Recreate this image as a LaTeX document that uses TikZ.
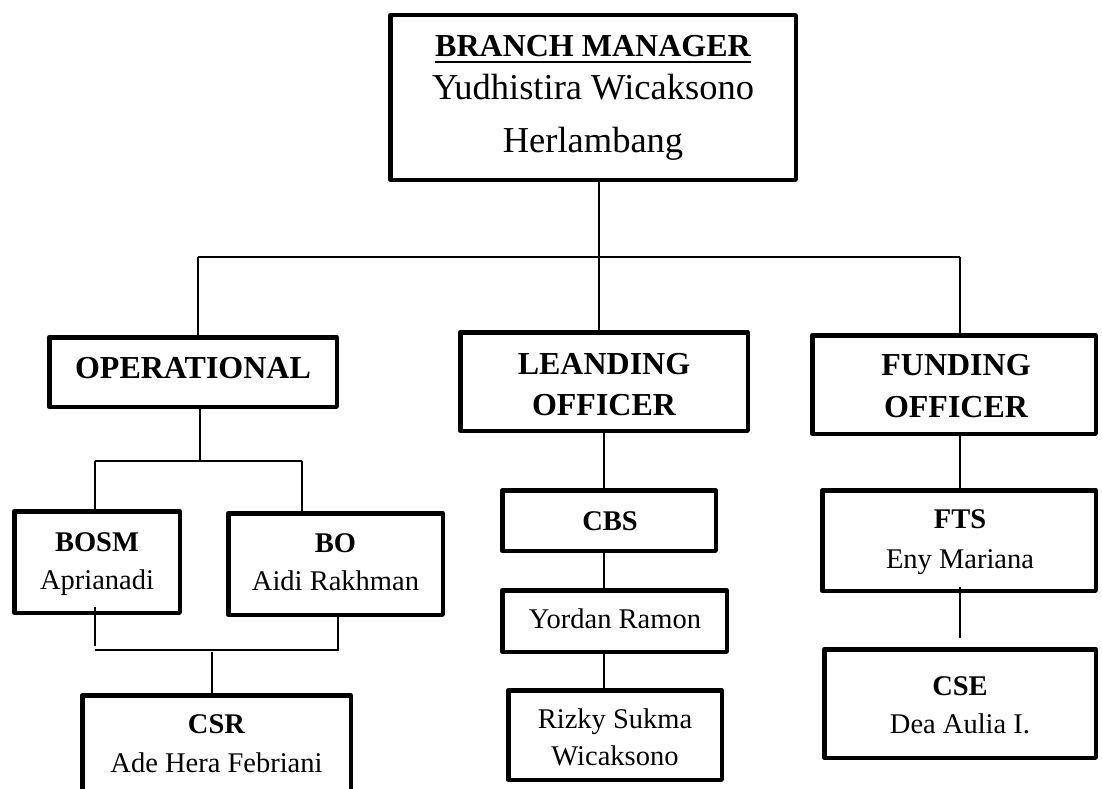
\documentclass[tikz,border=0pt]{standalone}
\usepackage{fontspec}
\setmainfont{Liberation Serif}
\begin{document}
\begin{tikzpicture}[x=1pt,y=-1pt,
  box/.style={draw, line width=4.5pt, line join=round, inner sep=0pt, outer sep=0pt},
  conn/.style={line width=1.8pt},
  hb/.style={font=\fontsize{32}{38}\selectfont\bfseries, inner sep=0pt, anchor=base},
  nm/.style={font=\fontsize{36.5}{44}\selectfont, inner sep=0pt, anchor=base},
  sb/.style={font=\fontsize{28.5}{34}\selectfont\bfseries, inner sep=0pt, anchor=base},
  sn/.style={font=\fontsize{28.5}{34}\selectfont, inner sep=0pt, anchor=base}]
\useasboundingbox (0,0) rectangle (1102,789);
\clip (0,0) rectangle (1102,789);
\fill[white] (0,0) rectangle (1102,789);

% boxes
\node[box, minimum width=405.5pt, minimum height=164.5pt] (bm) at (593,97.5) {};
\node[box, minimum width=287.5pt, minimum height=69.5pt] (op) at (193,372) {};
\node[box, minimum width=287.5pt, minimum height=98.5pt] (lo) at (604,381.5) {};
\node[box, minimum width=283.5pt, minimum height=98.5pt] (fo) at (954,384.5) {};
\node[box, minimum width=165.5pt, minimum height=101.5pt] (bosm) at (97,562) {};
\node[box, minimum width=214.5pt, minimum height=101.5pt] (bo) at (335.5,564) {};
\node[box, minimum width=268.5pt, minimum height=122.5pt] (csr) at (216.5,756.5) {};
\node[box, minimum width=213.5pt, minimum height=60.5pt] (cbs) at (609,520.5) {};
\node[box, minimum width=224.5pt, minimum height=61.5pt] (yr) at (614.5,621) {};
\node[box, minimum width=213.5pt, minimum height=89.5pt] (rz) at (615,735) {};
\node[box, minimum width=273.5pt, minimum height=100.5pt] (fts) at (959,540.5) {};
\node[box, minimum width=271.5pt, minimum height=108.5pt] (cse) at (960,703.5) {};

% texts
\node[hb] (t1) at (593,57) {BRANCH MANAGER};
\draw[line width=2.2pt] ([yshift=-5pt]t1.base west) -- ([yshift=-5pt]t1.base east);
\node[nm] (t2) at (593,100) {Yudhistira Wicaksono};
\node[nm] (t3) at (593,152) {Herlambang};
\node[hb] (t4) at (193,378) {OPERATIONAL};
\node[hb] (t5) at (604,374) {LEANDING};
\node[hb] (t6) at (604,415) {OFFICER};
\node[hb] (t7) at (956,375) {FUNDING};
\node[hb] (t8) at (956,417) {OFFICER};
\node[sb] (t9) at (97,551) {BOSM};
\node[sn] (t10) at (97,589) {Aprianadi};
\node[sb] (t11) at (335.5,552) {BO};
\node[sn] (t12) at (335.5,590) {Aidi Rakhman};
\node[sb] (t13) at (216.5,733) {CSR};
\node[sn] (t14) at (216.5,772) {Ade Hera Febriani};
\node[sb] (t15) at (610,530) {CBS};
\node[sn] (t16) at (615,628) {Yordan Ramon};
\node[sn] (t17) at (615,728) {Rizky Sukma};
\node[sn] (t18) at (615,765) {Wicaksono};
\node[sb] (t19) at (960,528) {FTS};
\node[sn] (t20) at (960,568) {Eny Mariana};
\node[sb] (t21) at (960,695) {CSE};
\node[sn] (t22) at (960,733) {Dea Aulia I.};

% junction coordinates
\coordinate (jm) at (599,257);
\coordinate (jl) at (198,257);
\coordinate (jr) at (960,257);
\coordinate (opj) at (200,461);
\coordinate (bl) at (95,461);
\coordinate (br) at (302,461);
\coordinate (cl) at (95,650);
\coordinate (cr) at (338,650);
\coordinate (cm) at (212,650);
\coordinate (mx) at (604,0);
\coordinate (f1) at (960,587);
\coordinate (f2) at (960,638);

% connectors
\draw[conn] (jm |- bm.south) -- (jm);
\draw[conn] (jl) -- (jr);
\draw[conn] (jl) -- (jl |- op.north);
\draw[conn] (jm) -- (jm |- lo.north);
\draw[conn] (jr) -- (jr |- fo.north);

\draw[conn] (opj |- op.south) -- (opj);
\draw[conn] (bl) -- (br);
\draw[conn] (bl) -- (bl |- bosm.north);
\draw[conn] (br) -- (br |- bo.north);
\draw[conn] ([yshift=6pt]cl |- bosm.south) -- ([yshift=4pt]cl);
\draw[conn] (cl) -- (cr) -- (cr |- bo.south);
\draw[conn] ([yshift=-2pt]cm) -- (cm |- csr.north);

\draw[conn] (mx |- lo.south) -- (mx |- cbs.north);
\draw[conn] (mx |- cbs.south) -- (mx |- yr.north);
\draw[conn] (mx |- yr.south) -- (mx |- rz.north);

\draw[conn] (jr |- fo.south) -- (jr |- fts.north);
\draw[conn] (f1) -- (f2);
\end{tikzpicture}
\end{document}
